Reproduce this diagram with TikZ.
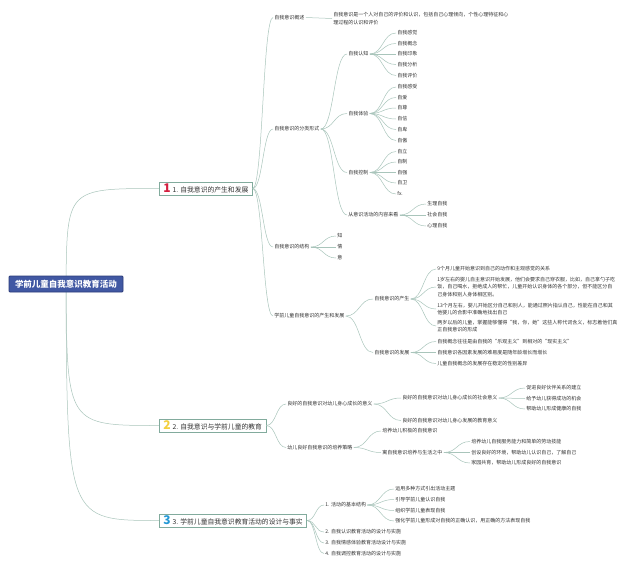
\documentclass[tikz,border=0pt]{standalone}
\usepackage{fontspec}
\setmainfont{Noto Sans CJK SC}
\usetikzlibrary{calc,backgrounds}
\definecolor{lineclr}{HTML}{A9C5BB}
\definecolor{bbord}{HTML}{82AB9D}
\definecolor{txt}{HTML}{333333}
\definecolor{rootfill}{HTML}{4158A3}
\definecolor{rootbord}{HTML}{2C3D7A}
\definecolor{numred}{HTML}{D41F3F}
\definecolor{numyel}{HTML}{F3D03E}
\definecolor{numblu}{HTML}{2398D5}
\tikzset{
 t/.style={anchor=west, inner sep=1.2pt, font=\fontsize{5}{7.5}\selectfont, text=txt, align=left},
 conn/.style={draw=lineclr, line width=0.5pt},
 cv/.style={to path={let \p1=(\tikztostart), \p2=(\tikztotarget) in .. controls ({(\x1+\x2)/2},\y1) and ({(\x1+\x2)/2},\y2) .. (\tikztotarget)}},
 bbox/.style={anchor=west, draw=bbord, line width=0.7pt, fill=white, inner xsep=4pt, inner ysep=1pt, minimum height=13pt, font=\fontsize{6.8}{7}\selectfont, text=txt},
 rootbox/.style={draw=rootbord, line width=0.8pt, fill=rootfill, text=white, font=\fontsize{8.5}{9}\selectfont\bfseries, minimum width=114pt, minimum height=16pt, inner sep=2pt, rounded corners=1pt},
 bignum/.style={font=\fontsize{12}{12}\selectfont\bfseries}
}
\newcommand\kid[5]{\node[t] (#2) at (#3,#4) {#5}; \draw[conn] (#1.east) to[cv] (#2.west);}
\begin{document}
\begin{tikzpicture}[x=1pt,y=-1pt]
\useasboundingbox (0,0) rectangle (640,568);
% root and main branches
\node[rootbox] (root) at (66,284) {学前儿童自我意识教育活动};
\node[bbox] (b1) at (159,188.5) {{\fontsize{12}{12}\selectfont\bfseries\color{numred}1}\hspace{2pt}1. 自我意识的产生和发展};
\node[bbox] (b2) at (159,425.5) {{\fontsize{12}{12}\selectfont\bfseries\color{numyel}2}\hspace{2pt}2. 自我意识与学前儿童的教育};
\node[bbox] (b3) at (159,520.5) {{\fontsize{12}{12}\selectfont\bfseries\color{numblu}3}\hspace{2pt}3. 学前儿童自我意识教育活动的设计与事实};
\begin{scope}[on background layer]
\fill[white] (0,0) rectangle (640,568);
\draw[conn] (root.center) .. controls (67,188.5) .. (b1.west);
\draw[conn] (root.center) .. controls (67,425.5) .. (b2.west);
\draw[conn] (root.center) .. controls (67,520.5) .. (b3.west);
\end{scope}
% branch 1
\kid{b1}{c11}{273}{17.5}{自我意识概述}
\kid{c11}{c11a}{332}{18.5}{自我意识是一个人对自己的评价和认识，包括自己心理倾向，个性心理特征和心\\理过程的认识和评价}
\kid{b1}{c12}{273}{129}{自我意识的分类形式}
\kid{c12}{c121}{347}{54}{自我认知}
\foreach \i/\y/\s in {1/33/自我感觉,2/43.5/自我概念,3/54/自我印象,4/64.5/自我分析,5/75.5/自我评价}{\kid{c121}{c121-\i}{396}{\y}{\s}}
\kid{c12}{c122}{347}{113.5}{自我体验}
\foreach \i/\y/\s in {1/87/自我感受,2/97.5/自爱,3/108/自尊,4/119/自信,5/129.5/自卑,6/140.5/自傲}{\kid{c122}{c122-\i}{396}{\y}{\s}}
\kid{c12}{c123}{347}{172.5}{自我控制}
\foreach \i/\y/\s in {1/151.5/自立,2/162/自制,3/172.5/自强,4/183/自卫,5/194/fx.}{\kid{c123}{c123-\i}{396}{\y}{\s}}
\kid{c12}{c124}{347}{215}{从意识活动的内容来看}
\foreach \i/\y/\s in {1/204/生理自我,2/215/社会自我,3/226/心理自我}{\kid{c124}{c124-\i}{426}{\y}{\s}}
\kid{b1}{c13}{273}{247}{自我意识的结构}
\foreach \i/\y/\s in {1/236/知,2/247/情,3/258/意}{\kid{c13}{c13-\i}{336}{\y}{\s}}
\kid{b1}{c14}{273}{316}{学前儿童自我意识的产生和发展}
\kid{c14}{c141}{373}{299}{自我意识的产生}
\kid{c141}{c141-1}{436}{269}{9个月儿童开始意识到自己的动作和主观感觉的关系}
\kid{c141}{c141-2}{436}{287}{1岁左右的婴儿自主意识开始发展，他们会要求自己穿衣服，比如，自己拿勺子吃\\饭，自己喝水，拒绝成人的帮忙，儿童开始认识身体的各个部分，但不能区分自\\己身体和别人身体相区别。}
\kid{c141}{c141-3}{436}{309}{13个月左右，婴儿开始区分自己和别人，能通过照片指认自己，性能在自己和其\\他婴儿的合影中准确地找出自己}
\kid{c141}{c141-4}{436}{326}{两岁以后的儿童，掌握能够懂得“我，你，她”这些人称代词含义，标志着他们真\\正自我意识的形成}
\kid{c14}{c142}{373}{352.5}{自我意识的发展}
\kid{c142}{c142-1}{436}{341.5}{自我概念往往是由自我的“乐观主义”到相对的“现实主义”}
\kid{c142}{c142-2}{436}{352.5}{自我意识各因素发展的难易度是随年龄增长而增长}
\kid{c142}{c142-3}{436}{363.5}{儿童自我概念的发展存在稳定的性别差异}
% branch 2
\kid{b2}{c21}{286}{404}{良好的自我意识对幼儿身心成长的意义}
\kid{c21}{c211}{401}{398}{良好的自我意识对幼儿身心成长的社会意义}
\foreach \i/\y/\s in {1/388/促进良好伙伴关系的建立,2/398.5/给予幼儿获得成功的机会,3/409/帮助幼儿形成健康的自我}{\kid{c211}{c211-\i}{525}{\y}{\s}}
\kid{c21}{c212}{401}{420.5}{良好的自我意识对幼儿身心发展的教育意义}
\kid{b2}{c22}{286}{447.5}{幼儿良好自我意识的培养策略}
\kid{c22}{c221}{381}{431}{培养幼儿积极的自我意识}
\kid{c22}{c222}{381}{452.5}{寓自我意识培养与生活之中}
\kid{c222}{c222-1}{470}{441.5}{培养幼儿自我服务能力和简单的劳动技能}
\kid{c222}{c222-2}{470}{452.5}{创设良好的环境，帮助幼儿认识自己，了解自己}
\kid{c222}{c222-3}{470}{463}{家园共育，帮助幼儿形成良好的自我意识}
% branch 3
\kid{b3}{c31}{324}{505}{1. 活动的基本结构}
\kid{c31}{c31-1}{394}{489}{运用多种方式引出活动主题}
\kid{c31}{c31-2}{394}{499.5}{引导学前儿童认识自我}
\kid{c31}{c31-3}{394}{510.5}{组织学前儿童表现自我}
\kid{c31}{c31-4}{394}{521}{强化学前儿童形成对自我的正确认识，用正确的方法表现自我}
\kid{b3}{c32}{324}{532}{2. 自我认识教育活动的设计与实施}
\kid{b3}{c33}{324}{543}{3. 自我情感体验教育活动设计与实施}
\kid{b3}{c34}{324}{553.5}{4. 自我调控教育活动的设计与实施}
\end{tikzpicture}
\end{document}
